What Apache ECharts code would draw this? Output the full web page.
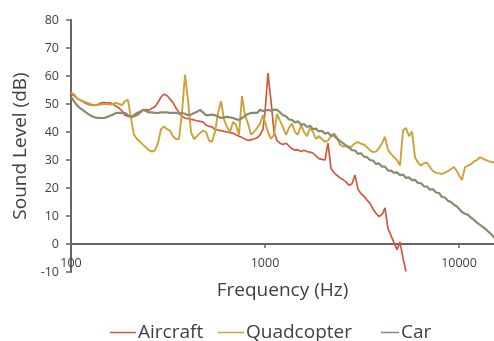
<!DOCTYPE html>
<html><head><meta charset="utf-8">
<script src="https://cdn.jsdelivr.net/npm/echarts@6/dist/echarts.min.js"></script>
<style>html,body{margin:0;padding:0;background:#fff}#c{width:494px;height:341px}</style>
</head><body><div id="c"></div>
<script>
// Frequencies (Hz) at which the spectra were read
const freqs = [
100,103.6,107.4,111.3,115.3,119.5,123.8,128.3,133,137.8,142.8,147.9,153.3,158.9,164.6,170.6,176.8,183.2,189.8,196.7,203.8,211.2,218.9,226.8,235,243.6,252.4,261.5,271,280.8,291,301.6,312.5,323.8,335.6,347.7,360.3,373.4,386.9,401,415.5,430.6,446.2,462.3,479.1,496.5,514.4,533.1,552.4,572.4,593.2,614.7,637,660.1,684,708.8,734.5,761.1,788.7,817.3,846.9,877.6,909.4,942.4,976.6,
1000,1036,1074,1113,1153,1195,1238,1283,1330,1378,1428,1479,1533,1589,1646,1706,1768,1832,1898,1967,2038,2112,2189,2268,2350,2436,2524,2615,2710,2808,2910,3016,3125,3238,3356,3477,3603,3734,3869,4010,4155,4306,4462,4623,4791,4965,5144,5331,5524,5724,5932,6147,6370,6601,6840,7088,7345,7611,7887,8173,8469,8776,9094,9424,9766,
10000,10360,10740,11130,11530,11950,12380,12830,13300,13780,14280,14790,15330
];
const aircraftDb = [
53.5,53,52,51.4,50.8,50.2,49.8,49.6,49.5,49.8,
50.4,50.5,50.4,50.4,50,49.2,48.6,47.5,46,45.6,
45.4,45.5,46,46.8,47.9,48,47.8,48.5,49,50.5,
52.5,53.5,53,51.8,50.5,48.5,47,45.5,45,44.8,
44.5,44.3,44,43.8,43.6,42.5,42,41.8,41,40.7,
40.5,40.2,40,39.8,39.6,39,38.5,38,37.5,37,
37.2,37.5,37.9,38.9,41,
47,61,51,40,37,36,35.5,36,35,34,
33.5,33.6,33,33.5,33,32.8,32.5,31.5,30.5,30.2,
30,36,27,25.5,24.5,23.6,23,22.2,21,21.5,
24.6,19.5,18,17,15.7,14.5,12.5,11,9.8,10.5,
12.9,5.5,3,0.5,-2,0.7,-5,-9.8
];
const quadcopterDb = [
54,53.5,52,51.4,51,50.6,50.2,49.8,49.6,49.6,
49.8,50,50,49.8,50,50.4,50,49.6,51,51.5,
45,39,37.5,36.5,35.5,34.5,33.5,33,33.5,36,
41,42,41,40.5,38.5,37.5,37.5,46.8,60.4,51.4,
40,37.5,38.5,39.6,40.5,40,37,36.5,40,46.8,
51,44.5,41.8,40,43.6,42.5,39,52.8,46,43,
39,40,41.4,43,46,
46.5,40,37.5,39,46.5,44,41.8,39,41.5,43,
40,39,42.5,40,38.5,41.4,40,37.5,38.5,37.5,
36.5,37,38.5,39.5,38,35.5,34.8,35,34.2,35,
36,36.4,35.8,35.5,34.6,33.5,32.8,33,34.2,36,
38.2,33.6,32.2,31,30,28,40.5,41.4,38.5,40.2,
31,29,28,28.8,29,27.5,26,25.5,25.2,25,
25.5,26,26.8,27.5,26,
24.5,22.9,27.5,28,28.5,29.5,30,31,30.4,30,29.5,29.3,29
];
const carDb = [
52.5,51,49.5,48.5,47.8,47,46.2,45.6,45.2,45,
45,45,45.3,45.8,46.2,46.8,46.8,46.8,46.8,46,
45.4,46,46.8,47.2,47.9,47.5,47,47,46.8,46.8,
47,47,47,46.8,46.8,46.8,46.6,46.8,46.5,46,
46.2,46.8,47.2,47.9,47,46,46,46.2,46,45.5,
45,45.2,45.4,45.2,45,44.6,44.3,45,45.8,46.4,
46.8,46.8,46.8,47.9,47.5,
47.5,47.9,47.6,48,47.9,47,46,45.6,44.5,44.3,
43.4,43.8,42.6,42.8,41.8,42.2,41,41.2,40.2,40.4,
39.4,39.8,38.6,38.8,37.6,36.8,36,35.2,34.6,33.5,
33.4,32.2,32.4,31.2,31,30,29.8,28.6,28.8,27.6,
27.6,26.3,26.2,25.4,25.6,24.6,24.8,23.6,23.8,22.8,
22.9,21.8,21.7,20.6,20.5,19.4,19.6,18.4,18.2,16.8,
16.6,15.4,15,14,13.4,
12.6,11.4,10.8,10.4,9.4,8.6,7.6,6.8,6,5.2,4.2,3.2,2
];
const seriesNames = ['Aircraft','Quadcopter','Car'];
const seriesColors = ['#d1573f','#cda236','#8a8a6e'];
const xTicks = [100,1000,10000];
const yMin = -10, yMax = 80, yStep = 10;

const font = '"Open Sans", "Noto Sans", sans-serif';
const textColor = '#404040';
const axisColor = '#666666';

function pairs(vals){ return vals.map((v,i)=>[freqs[i], v]); }
const allDb = [aircraftDb, quadcopterDb, carDb];
const lineWidths = [1.7, 1.9, 2.2];
function isDecade(v){ const l = Math.log10(v); return Math.abs(l - Math.round(l)) < 1e-6; }

const legendLeft = [105, 213, 376];
const legendIconW = [26, 26, 18];

const chart = echarts.init(document.getElementById('c'), null, {renderer:'canvas'});
chart.setOption({
  animation:false,
  backgroundColor:'#fff',
  grid:{left:71, right:0, top:20, bottom:69, containLabel:false},
  legend: seriesNames.map((n,k)=>({
    left:legendLeft[k], top:318, icon:'rect', itemWidth:legendIconW[k], itemHeight:1.5,
    textStyle:{fontFamily:font, fontSize:19, color:textColor, padding:[0,0,0,-3]},
    data:[n]
  })),
  xAxis:{
    type:'log', logBase:10, min:100, max:15150,
    name:'Frequency (Hz)', nameLocation:'middle', nameGap:9,
    nameTextStyle:{fontFamily:font, fontSize:19, color:textColor},
    axisLine:{onZero:true, lineStyle:{color:axisColor, width:2}},
    axisTick:{show:true, length:4, customValues:xTicks, lineStyle:{color:axisColor, width:1.5}},
    axisLabel:{customValues:xTicks, margin:-15, fontFamily:font, fontSize:12.5, color:textColor,
      formatter:v=> isDecade(v) ? String(Math.round(v)) : ''},
    splitLine:{show:false}, minorTick:{show:false}
  },
  yAxis:{
    type:'value', min:yMin, max:yMax, interval:yStep,
    name:'Sound Level (dB)', nameLocation:'middle', nameGap:37, nameRotate:90,
    nameTextStyle:{fontFamily:font, fontSize:19, color:textColor},
    axisLine:{show:true, onZero:false, lineStyle:{color:axisColor, width:2}},
    axisTick:{show:true, length:5, lineStyle:{color:axisColor, width:1.5}},
    axisLabel:{margin:12, fontFamily:font, fontSize:12.5, color:textColor},
    splitLine:{show:false}
  },
  series: seriesNames.map((n,k)=>({
    name:n, type:'line', symbol:'none', showSymbol:false,
    data:pairs(allDb[k]),
    lineStyle:{color:seriesColors[k], width:lineWidths[k]},
    itemStyle:{color:seriesColors[k]},
    clip:true
  }))
});
</script></body></html>
